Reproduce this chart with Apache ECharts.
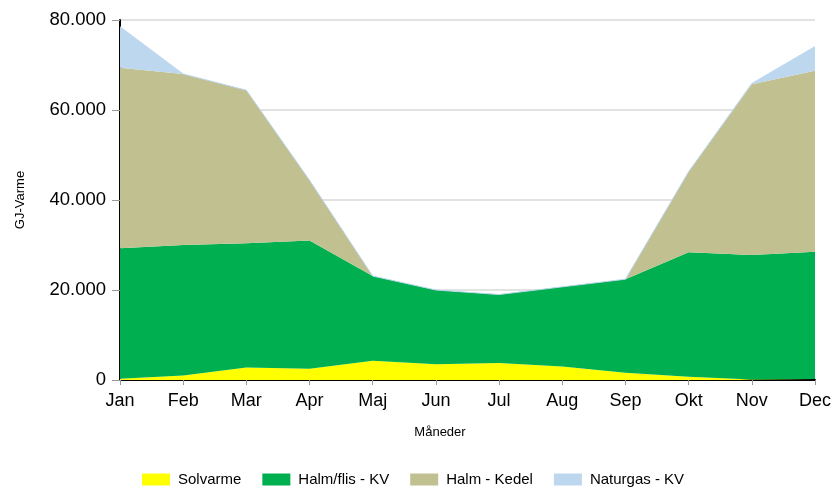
<!DOCTYPE html>
<html>
<head>
<meta charset="utf-8">
<script src="https://cdn.jsdelivr.net/npm/echarts@6/dist/echarts.min.js"></script>
<style>html,body{margin:0;padding:0;background:#fff}#c{width:837px;height:488px}</style>
</head>
<body>
<div id="c"></div>
<script>
const months = ['Jan','Feb','Mar','Apr','Maj','Jun','Jul','Aug','Sep','Okt','Nov','Dec'];
const solvarme = [300, 1000, 2800, 2500, 4300, 3500, 3800, 3000, 1600, 700, 100, 200];
const halmFlisKV = [29000, 29000, 27600, 28500, 18800, 16500, 15200, 17700, 20800, 27700, 27700, 28300];
const halmKedel = [40100, 38000, 34000, 13400, 0, 0, 0, 0, 0, 17900, 37900, 40200];
const naturgasKV = [9100, 0, 0, 0, 0, 0, 0, 0, 0, 0, 200, 5400];
const yTicks = [0, 20000, 40000, 60000, 80000];

const font = 'Liberation Sans, Arial, sans-serif';
function fmt(v){ return String(v).replace(/\B(?=(\d{3})+(?!\d))/g, '.'); }
function area(name, data, color, line){
  return {
    name, type:'line', stack:'total', data, symbol:'none', smooth:false,
    itemStyle:{color},
    lineStyle:{width: line ? 1 : 0, color},
    areaStyle:{color, opacity:1}
  };
}
const chart = echarts.init(document.getElementById('c'), null, {renderer:'canvas'});
chart.setOption({
  animation:false,
  textStyle:{fontFamily:font},
  grid:{left:120, right:22, top:20, bottom:108},
  legend:{
    left:142, top:472, padding:0, itemWidth:28, itemHeight:12, itemGap:21,
    icon:'rect',
    textStyle:{fontSize:15, color:'#000', fontFamily:font, padding:[0,0,0,3]},
    data:['Solvarme','Halm/flis - KV','Halm - Kedel','Naturgas - KV']
  },
  xAxis:{
    type:'category', data:months, boundaryGap:false,
    name:'Måneder', nameLocation:'middle', nameGap:46,
    nameTextStyle:{fontSize:13, color:'#000', padding:[0,55,0,0]},
    axisLine:{lineStyle:{color:'#000', width:2}},
    axisTick:{alignWithLabel:true, length:5, lineStyle:{color:'#999'}},
    axisLabel:{fontSize:18, color:'#000', margin:12}
  },
  yAxis:{
    type:'value', min:yTicks[0], max:yTicks[yTicks.length-1], interval:20000,
    name:'GJ-Varme', nameLocation:'middle', nameGap:93,
    nameTextStyle:{fontSize:13, color:'#000'},
    axisLine:{show:true, lineStyle:{color:'#000', width:2}},
    axisTick:{show:true, length:8, lineStyle:{color:'#999'}},
    axisLabel:{fontSize:18.5, color:'#000', margin:14, formatter:fmt},
    splitLine:{lineStyle:{color:'#d9d9d9', width:1.5}}
  },
  series:[
    area('Solvarme', solvarme, '#FFFF00', false),
    area('Halm/flis - KV', halmFlisKV, '#00B050', false),
    area('Halm - Kedel', halmKedel, '#C0C090', false),
    area('Naturgas - KV', naturgasKV, '#BDD7EE', true)
  ]
});
</script>
</body>
</html>
